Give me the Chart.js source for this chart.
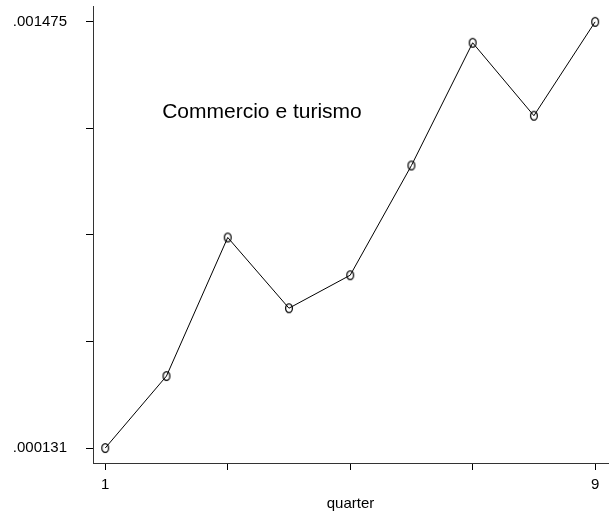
<!DOCTYPE html>
<html>
<head>
<meta charset="utf-8">
<style>
  html, body { margin: 0; padding: 0; background: #fff; }
  canvas { display: block; }
</style>
<script src="https://cdn.jsdelivr.net/npm/chart.js@4/dist/chart.umd.min.js"></script>
</head>
<body>
<canvas id="chart" width="613" height="521"></canvas>
<script>
const quarters = [1, 2, 3, 4, 5, 6, 7, 8, 9];
const shares = [0.000131, 0.000358, 0.000795, 0.000572, 0.000676, 0.001022, 0.001409, 0.001179, 0.001475];

const xTickValues = [1, 3, 5, 7, 9];
const xTickLabels = ['1', '', '', '', '9'];
const yTickValues = [0.000131, 0.000467, 0.000803, 0.001139, 0.001475];
const yTickLabels = ['.000131', '', '', '', '.001475'];

const seriesLabel = 'Commercio e turismo';
const fontFamily = '"Liberation Sans", Arial, Helvetica, sans-serif';

// hollow ellipse marker
function makeMarker() {
  const c = document.createElement('canvas');
  c.width = 10;
  c.height = 12;
  const g = c.getContext('2d');
  g.strokeStyle = '#000';
  g.lineWidth = 1.2;
  g.beginPath();
  g.ellipse(5, 6, 3.4, 4.4, 0, 0, Math.PI * 2);
  g.stroke();
  return c;
}

// series name written inside the plot
const innerLabel = {
  id: 'innerLabel',
  afterDraw(chart) {
    const { ctx, scales } = chart;
    ctx.save();
    ctx.font = '21px ' + fontFamily;
    ctx.fillStyle = '#000';
    ctx.textAlign = 'left';
    ctx.textBaseline = 'middle';
    ctx.fillText(seriesLabel, scales.x.getPixelForValue(1.93), scales.y.getPixelForValue(0.00119));
    ctx.restore();
  }
};

const marker = makeMarker();

new Chart(document.getElementById('chart'), {
  type: 'line',
  data: {
    datasets: [{
      label: seriesLabel,
      data: quarters.map((q, i) => ({ x: q, y: shares[i] })),
      borderColor: '#000',
      borderWidth: 1,
      backgroundColor: 'transparent',
      pointStyle: marker,
      pointRadius: 4,
      tension: 0
    }]
  },
  options: {
    responsive: false,
    animation: false,
    layout: { padding: { top: 6, right: 2, left: 0, bottom: 0 } },
    plugins: {
      legend: { display: false },
      tooltip: { enabled: false }
    },
    scales: {
      x: {
        type: 'linear',
        min: 0.8,
        max: 9.21,
        afterFit(scale) {
          scale.height = 58;
          scale.paddingLeft = 0;
          scale.paddingRight = 0;
        },
        afterBuildTicks(scale) { scale.ticks = xTickValues.map(v => ({ value: v })); },
        grid: { drawOnChartArea: false, tickLength: 7, color: '#000' },
        border: { color: '#333', width: 1 },
        ticks: {
          autoSkip: false,
          maxRotation: 0,
          padding: 6,
          color: '#000',
          font: { family: fontFamily, size: 15 },
          callback: (v, i) => xTickLabels[i]
        },
        title: {
          display: true,
          text: 'quarter',
          color: '#000',
          font: { family: fontFamily, size: 15 },
          padding: { top: 0, bottom: 8 }
        }
      },
      y: {
        type: 'linear',
        min: 0.0000838,
        max: 0.001525,
        afterFit(scale) {
          scale.width = 93;
          scale.paddingTop = 0;
          scale.paddingBottom = 0;
        },
        afterBuildTicks(scale) { scale.ticks = yTickValues.map(v => ({ value: v })); },
        grid: { drawOnChartArea: false, tickLength: 7, color: '#000' },
        border: { color: '#333', width: 1 },
        ticks: {
          autoSkip: false,
          padding: 19,
          color: '#000',
          font: { family: fontFamily, size: 15 },
          callback: (v, i) => yTickLabels[i]
        }
      }
    }
  },
  plugins: [innerLabel]
});
</script>
</body>
</html>
